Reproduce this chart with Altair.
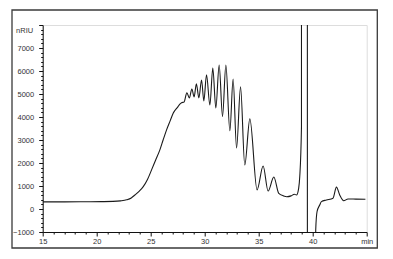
import altair as alt
import pandas as pd

# Chromatogram trace (time in min, signal in nRIU)
time_min = [15.0, 17.0, 19.0, 20.5, 21.5, 22.2, 22.77, 23.2, 23.54, 23.9, 24.31, 24.7,
            25.08, 25.45, 25.85, 26.15, 26.47, 26.8, 27.08, 27.5, 27.7, 27.86,
            28.09, 28.35, 28.58, 28.81, 29.02, 29.23, 29.46, 29.71, 29.92, 30.17,
            30.48, 30.75, 31.03, 31.34, 31.65, 31.96, 32.33, 32.63, 32.95, 33.32,
            33.71, 34.18, 34.85, 35.41, 35.87, 36.40, 36.86, 37.3, 37.6, 38.0,
            38.3, 38.5, 38.7, 38.8, 38.96, 38.97, 39.5, 39.51, 40.25, 40.28,
            40.40, 40.65, 40.81, 41.27, 41.88, 42.2, 42.5, 42.87, 43.27, 44.0, 44.88]
signal_nriu = [310, 310, 315, 320, 330, 355, 400, 480, 610, 760, 970, 1280,
               1700, 2120, 2570, 3000, 3440, 3830, 4160, 4430, 4560, 4620,
               4650, 5050, 4830, 5220, 4870, 5440, 4830, 5610, 4700, 5830,
               4520, 6130, 4390, 6260, 4020, 6260, 3400, 5650, 2650, 5310,
               1910, 3920, 830, 1870, 780, 1390, 680, 570, 535, 570,
               640, 610, 900, 1400, 3580, 30000, 30000, -5000, -5000, -910,
               -120, 175, 320, 390, 470, 950, 610, 360, 435, 430, 425]

x_tick_values = list(range(15, 46))
y_tick_values = list(range(-1000, 8001, 200))

df = pd.DataFrame({"t": time_min, "v": signal_nriu})

FONT = "Liberation Sans"
TXT = "#333333"

x_axis = alt.Axis(
    values=x_tick_values,
    labelExpr="datum.value == 45 ? 'min' : (datum.value % 5 == 0 ? datum.label : '')",
    tickSize={"condition": {"test": "datum.value % 5 === 0", "value": 4}, "value": 2},
    labelOverlap=False, labelFlush=False, grid=False,
    domainColor="#111111", tickColor="#111111", domainWidth=1, tickWidth=1,
    labelFont=FONT, labelFontSize=7.5, labelColor=TXT, labelPadding=1,
    title=None,
)
y_axis = alt.Axis(
    values=y_tick_values,
    labelExpr="(datum.value % 1000 == 0 && datum.value != 8000) ? datum.label : ''",
    format="d",
    tickSize={"condition": {"test": "datum.value % 1000 === 0", "value": 4}, "value": 2},
    labelOverlap=False, labelFlush=False, grid=False,
    domainColor="#111111", tickColor="#111111", domainWidth=1, tickWidth=1,
    labelFont=FONT, labelFontSize=7.5, labelColor=TXT, labelPadding=5,
    title="nRIU", titleAngle=0, titleAlign="right", titleBaseline="middle",
    titleX=-10, titleY=5.5, titleFont=FONT, titleFontSize=7.5,
    titleFontWeight="normal", titleColor=TXT,
)

line = alt.Chart(df).mark_line(
    color="#1a1a1a", strokeWidth=1.1, interpolate="monotone", clip=True
).encode(
    x=alt.X("t:Q", scale=alt.Scale(domain=[15, 45], nice=False, zero=False), axis=x_axis),
    y=alt.Y("v:Q", scale=alt.Scale(domain=[-1000, 8000], nice=False, zero=False), axis=y_axis),
)

frame = alt.Chart(alt.Data(values=[{"k": 0}])).mark_rect(
    fillOpacity=0, stroke="#3a3a3a", strokeWidth=1.3
).encode(
    x=alt.value(-30.7), x2=alt.value(334.6), y=alt.value(-15), y2=alt.value(223)
)

chart = alt.layer(frame, line).properties(
    width=324, height=207,
    autosize=alt.AutoSizeParams(type="none"),
    padding={"left": 42.7, "top": 25, "right": 26.3, "bottom": 27},
).configure_view(stroke=None).configure(background="white")

chart.save("out.html", embed_options={"renderer": "svg", "actions": False})
